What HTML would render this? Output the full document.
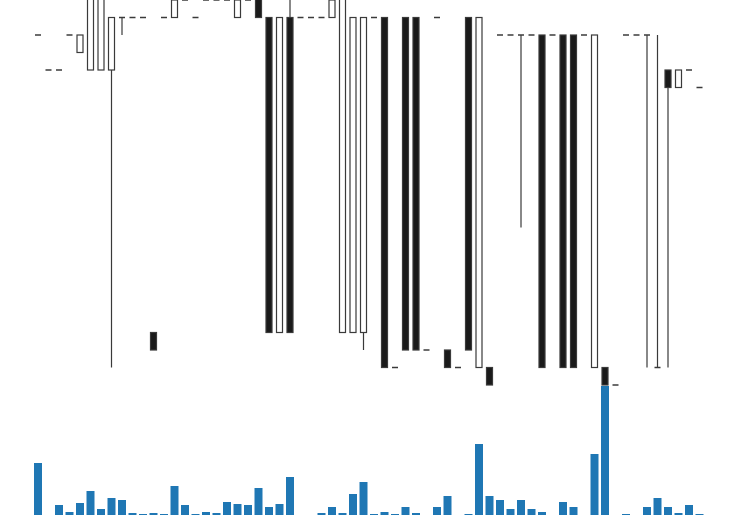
<!DOCTYPE html>
<html><head><meta charset="utf-8"><style>
html,body{margin:0;padding:0;background:#fff;}
svg{display:block;}
</style></head><body>
<svg id="chart" width="737" height="515" viewBox="0 0 737 515">
<g id="candles"></g>
<g id="volume"></g>
</svg>
<script>
const opens  = [20,18,18,20,19,18,18,18,21,21,21,3,21,21,22,21,22,22,22,21,22,23,21,3,21,21,21,21,21,3,3,3,21,21,1,21,21,2,21,2,1,21,1,1,20,20,20,20,20,20,20,20,20,1,1,0,20,20,20,1,18,17,18,17];
const closes = [20,18,18,20,20,23,23,21,21,21,21,2,21,22,22,21,22,22,22,22,22,21,3,21,3,21,21,21,22,23,21,21,21,1,1,2,2,2,21,1,1,2,21,0,20,20,20,20,1,20,1,1,20,20,0,0,20,20,20,1,17,18,18,17];
const highs  = [20,18,18,20,20,23,23,21,21,21,21,3,21,22,22,21,22,22,22,22,22,23,21,21,23,21,21,21,22,23,21,21,21,21,1,21,21,2,21,2,1,21,21,1,20,20,20,20,20,20,20,20,20,20,1,0,20,20,20,20,18,18,18,17];
const lows   = [20,18,18,20,19,18,18,1,20,21,21,2,21,21,22,21,22,22,22,21,22,21,3,3,3,21,21,21,21,3,3,2,21,1,1,2,2,2,21,1,1,2,1,0,20,20,9,20,1,20,1,1,20,1,0,0,20,20,1,1,1,17,18,17];
const volumes = [52,0,10,3,12,24,6,17,15,2,1,2,1,29,10,1,3,2,13,11,10,27,8,11,38,0,0,2,8,2,21,33,1,3,1,8,2,0,8,19,0,1,71,19,15,6,15,6,3,0,13,8,0,61,129,0,1,0,8,17,8,2,10,1];

const NS='http://www.w3.org/2000/svg';
const x0=38, step=10.5;
function xPos(i){return x0+step*i;}
function yPrice(p){return (22-p)*17.5;}
function yVol(v){return 515-v*1;}
const cg=document.getElementById('candles');
const vg=document.getElementById('volume');
const dark='#3a3a3a', fill='#1a1a1a';
for(let i=0;i<opens.length;i++){
  const cx=xPos(i);
  const o=opens[i], c=closes[i], h=highs[i], l=lows[i];
  const yTop=yPrice(Math.max(o,c)), yBot=yPrice(Math.min(o,c));
  const g=document.createElementNS(NS,'g');
  
  
  const wick=document.createElementNS(NS,'line');
  wick.setAttribute('x1',cx);wick.setAttribute('x2',cx);
  wick.setAttribute('y1',yPrice(h));wick.setAttribute('y2',yPrice(l));
  wick.setAttribute('stroke',dark);wick.setAttribute('stroke-width','1.2');
  
  
  g.appendChild(wick);
  if(o===c){
    const d=document.createElementNS(NS,'line');
    d.setAttribute('x1',cx-3);d.setAttribute('x2',cx+3);
    d.setAttribute('y1',yTop);d.setAttribute('y2',yTop);
    d.setAttribute('stroke',dark);d.setAttribute('stroke-width','1.5');
    
    
    g.appendChild(d);
  } else {
    const r=document.createElementNS(NS,'rect');
    r.setAttribute('x',cx-3);r.setAttribute('width',6);
    r.setAttribute('y',yTop);r.setAttribute('height',yBot-yTop);
    r.setAttribute('fill',c>o?'#ffffff':fill);
    r.setAttribute('stroke',dark);r.setAttribute('stroke-width','1.2');
    
    
    g.appendChild(r);
  }
  cg.appendChild(g);
}
for(let i=0;i<volumes.length;i++){
  if(volumes[i]<=0) continue;
  const r=document.createElementNS(NS,'rect');
  r.setAttribute('x',xPos(i)-4);r.setAttribute('width',8);
  r.setAttribute('y',yVol(volumes[i]));r.setAttribute('height',515-yVol(volumes[i]));
  r.setAttribute('fill','#1f77b4');
  
  
  vg.appendChild(r);
}
</script>
</body></html>
